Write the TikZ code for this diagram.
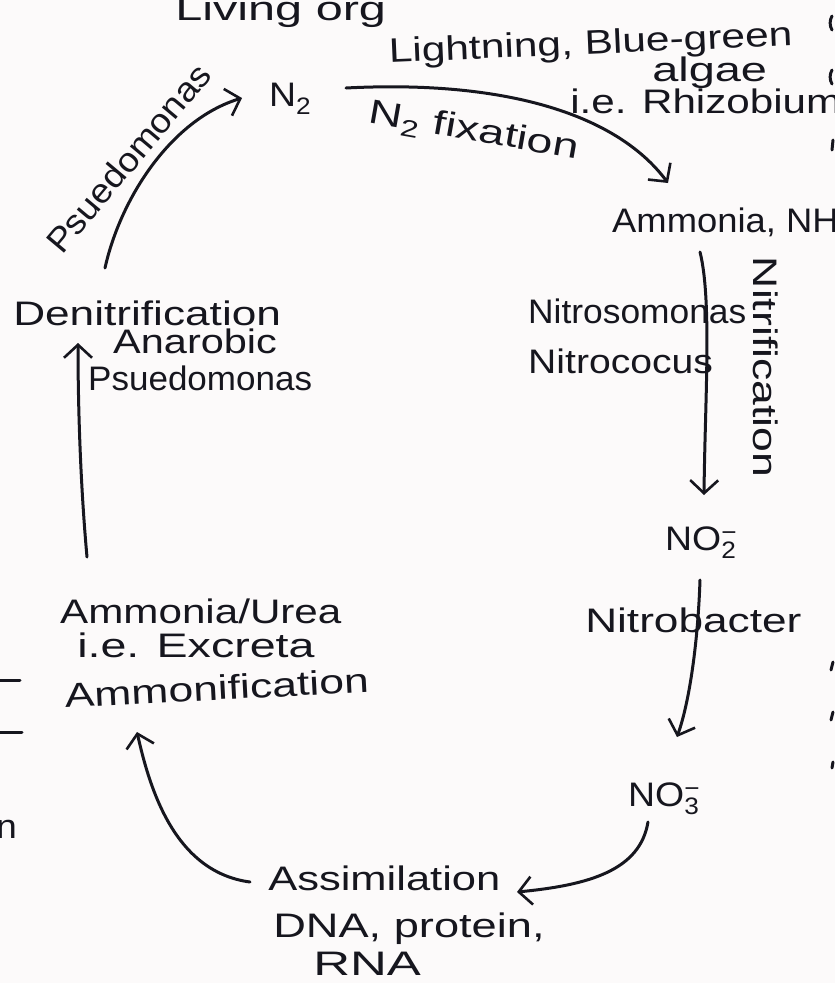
\documentclass[tikz,border=0pt]{standalone}
\usepackage{fontspec}
\setmainfont{Liberation Sans}
\usetikzlibrary{arrows.meta}
\definecolor{ink}{RGB}{22,22,30}
\definecolor{paper}{RGB}{252,250,250}
\begin{document}
\begin{tikzpicture}[x=1pt,y=-1pt,
  hw/.style={font=\fontsize{34}{40}\selectfont, text=ink, inner sep=0pt, anchor=base west},
  link/.style={draw=ink, line width=3pt, line cap=round, line join=round,
    -{Straight Barb[length=13pt,width=28pt,line width=2.6pt]}},
  frag/.style={draw=ink, line width=3pt, line cap=round}]
\fill[paper] (0,0) rectangle (835,983);
\useasboundingbox (0,0) rectangle (835,983);

% texts
\node[hw, xscale=1.43] (living) at (175,20) {Living org};
\node[hw, rotate=2.5, xscale=1.25] (light) at (389,63) {Lightning, Blue-green};
\node[hw, xscale=1.38] (algae) at (652,81) {algae};
\node[hw, xscale=1.24] (rhizo) at (570,113) {i.e. Rhizobium};
\node[hw, xscale=1.1] (n2) at (269,106) {N\textsubscript{2}};
\node[hw, rotate=-10, xscale=1.37] (fix) at (367,122) {N\textsubscript{2} fixation};
\node[hw, xscale=1.07] (nh3) at (612,232) {Ammonia, NH\textsubscript{3}};
\node[hw, xscale=1.04] (nsm) at (528,323) {Nitrosomonas};
\node[hw, xscale=1.15] (ncc) at (528,373) {Nitrococus};
\node[hw, rotate=-90, xscale=1.31, anchor=center] (nitri) at (766,367) {Nitrification};
\node[hw, xscale=1.1] (no2) at (665,550) {NO\rlap{\textsubscript{2}}\textsuperscript{−}};
\node[hw, xscale=1.3] (nbac) at (585,632) {Nitrobacter};
\node[hw, xscale=1.1] (no3) at (628,806) {NO\rlap{\textsubscript{3}}\textsuperscript{−}};
\node[hw, xscale=1.28] (assim) at (268,890) {Assimilation};
\node[hw, xscale=1.33] (dna) at (273,937) {DNA, protein,};
\node[hw, xscale=1.5] (rna) at (313,975) {RNA};
\node[hw, xscale=1.24] (urea) at (60,623) {Ammonia/Urea};
\node[hw, xscale=1.37] (excr) at (77,657) {i.e. Excreta};
\node[hw, rotate=3, xscale=1.31] (ammf) at (65,708) {Ammonification};
\node[hw, xscale=1.3] (denit) at (13,325) {Denitrification};
\node[hw, xscale=1.22] (anar) at (113,353) {Anarobic};
\node[hw, xscale=1.03] (pseu) at (88,390) {Psuedomonas};
\node[hw, rotate=50, xscale=1.08] (pseu2) at (62,256) {Psuedomonas};
\node[hw, xscale=1.1] (nfrag) at (-4,838) {n};

% connector end points
\coordinate (fixS) at (346,88);
\coordinate (fixE) at (668,183);
\coordinate (nsS) at (700,252);
\coordinate (nsE) at (704,495);
\coordinate (nbS) at (700,580);
\coordinate (nbE) at (677,737);
\coordinate (asS) at (648,822);
\coordinate (asE) at (517,892);
\coordinate (amS) at (250,882);
\coordinate (amE) at (137,732);
\coordinate (dnS) at (87,557);
\coordinate (dnE) at (78,343);
\coordinate (psS) at (105,268);
\coordinate (psE) at (242,98);

% connectors
\draw[link] (fixS) .. controls (500,80) and (615,112) .. (fixE);
\draw[link] (nsS) .. controls (712,300) and (705,400) .. (nsE);
\draw[link] (nbS) .. controls (698,640) and (690,700) .. (nbE);
\draw[link] (asS) .. controls (640,870) and (590,885) .. (asE);
\draw[link] (amS) .. controls (175,872) and (150,790) .. (amE);
\draw[link] (dnS) .. controls (80,480) and (78,400) .. (dnE);
\draw[link] (psS) .. controls (120,200) and (170,120) .. (psE);

% fragments at the cropped edges
\draw[frag] (0,680) -- (20,680);
\draw[frag] (0,732) -- (22,732);
\draw[frag] (832,30) arc (150:210:14);
\draw[frag] (832,84) arc (150:210:14);
\draw[frag] (833,140) -- (832,150);
\draw[frag] (833,662) -- (831,670);
\draw[frag] (833,712) -- (831,720);
\draw[frag] (833,762) -- (832,768);
\end{tikzpicture}
\end{document}
